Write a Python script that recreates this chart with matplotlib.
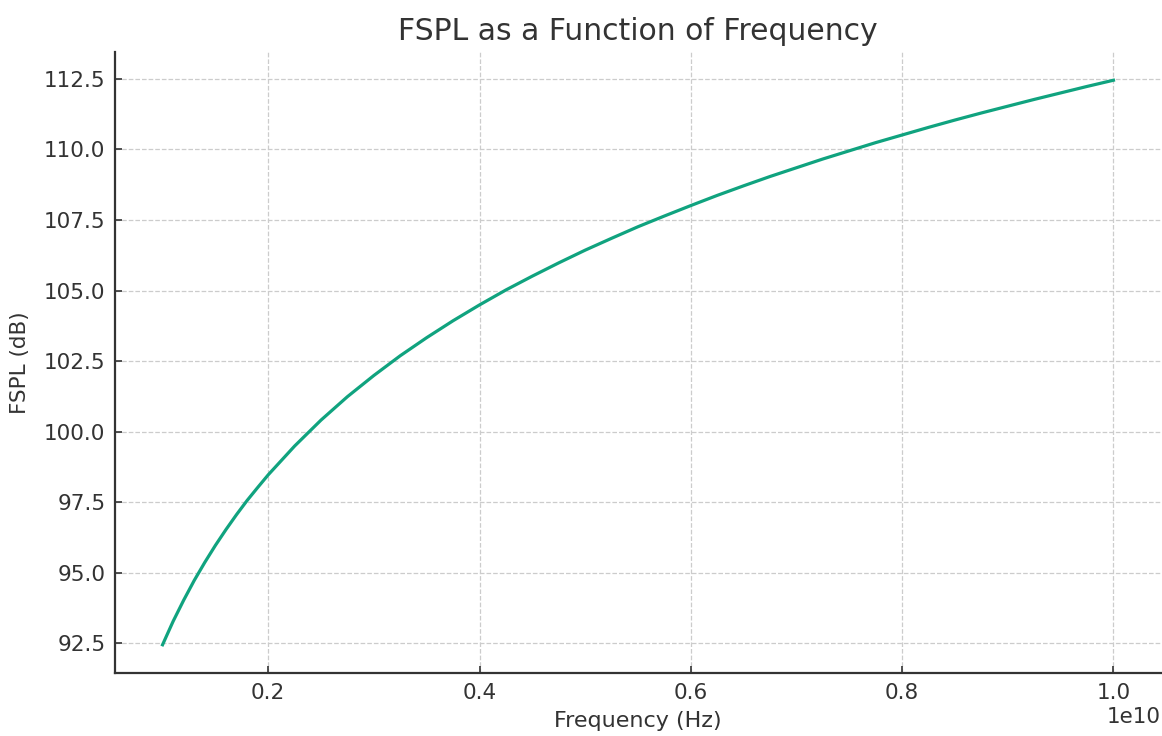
import matplotlib
matplotlib.use("Agg")
import matplotlib.pyplot as plt

# Frequency samples (Hz) and the free-space path loss read at each one (dB)
frequency_hz = [1.0e9, 1.1e9, 1.2e9, 1.3e9, 1.4e9, 1.5e9, 1.6e9, 1.7e9, 1.8e9, 1.9e9,
                2.0e9, 2.25e9, 2.5e9, 2.75e9, 3.0e9, 3.25e9, 3.5e9, 3.75e9, 4.0e9,
                4.25e9, 4.5e9, 4.75e9, 5.0e9, 5.25e9, 5.5e9, 5.75e9, 6.0e9, 6.25e9,
                6.5e9, 6.75e9, 7.0e9, 7.25e9, 7.5e9, 7.75e9, 8.0e9, 8.25e9, 8.5e9,
                8.75e9, 9.0e9, 9.25e9, 9.5e9, 9.75e9, 1.0e10]
fspl_db = [92.45, 93.28, 94.03, 94.73, 95.37, 95.97, 96.53, 97.06, 97.56, 98.02,
           98.47, 99.49, 100.41, 101.24, 101.99, 102.69, 103.33, 103.93, 104.49,
           105.02, 105.51, 105.98, 106.43, 106.85, 107.26, 107.64, 108.01, 108.37,
           108.71, 109.04, 109.35, 109.66, 109.95, 110.24, 110.51, 110.78, 111.04,
           111.29, 111.53, 111.77, 112.00, 112.23, 112.45]

text_color = "#333333"
line_color = "#10a37f"

fig = plt.figure(figsize=(11.62, 7.36), dpi=100)
ax = fig.add_axes([115 / 1162, 63 / 736, (1161 - 115) / 1162, (673 - 52) / 736])

ax.plot(frequency_hz, fspl_db, color=line_color, linewidth=2.3)

ax.set_title("FSPL as a Function of Frequency", fontsize=21.5, color=text_color, pad=9)
ax.set_xlabel("Frequency (Hz)", fontsize=16, color=text_color, labelpad=6)
ax.set_ylabel("FSPL (dB)", fontsize=15.5, color=text_color, labelpad=10)

ax.grid(True, linestyle="--", color="#cccccc", linewidth=0.9)
ax.set_axisbelow(True)

for side in ("top", "right"):
    ax.spines[side].set_visible(False)
for side in ("left", "bottom"):
    ax.spines[side].set_color(text_color)
    ax.spines[side].set_linewidth(1.6)

ax.tick_params(axis="both", direction="in", length=5, width=1.2, colors=text_color,
               labelsize=15.5, pad=7)
ax.xaxis.get_offset_text().set_fontsize(15.5)
ax.xaxis.get_offset_text().set_color(text_color)

fig.savefig("out.png", dpi=100)
